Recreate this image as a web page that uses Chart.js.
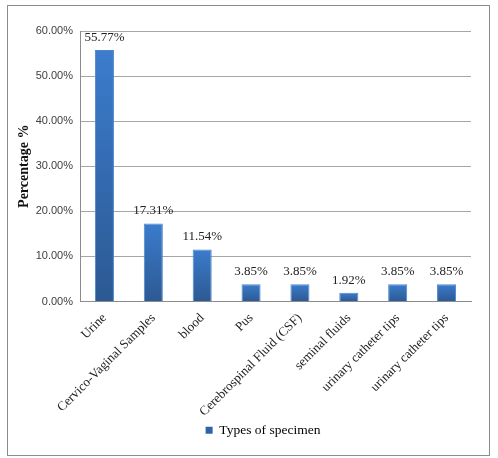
<!DOCTYPE html>
<html>
<head>
<meta charset="utf-8">
<script src="https://cdn.jsdelivr.net/npm/chart.js@4.4.1/dist/chart.umd.min.js"></script>
<style>
  html, body { margin: 0; padding: 0; background: #fff; }
  #wrap { width: 498px; height: 458px; }
</style>
</head>
<body>
<div id="wrap"><canvas id="chartSpecimen"></canvas></div>
<script>
const categories = ['Urine', 'Cervico-Vaginal Samples', 'blood', 'Pus', 'Cerebrospinal Fluid (CSF)',
  'seminal fluids', 'urinary catheter tips', 'urinary catheter tips'];
const percentValues = [55.77, 17.31, 11.54, 3.85, 3.85, 1.92, 3.85, 3.85];
const seriesName = 'Types of specimen';
const yTicks = [0, 10, 20, 30, 40, 50, 60];

// outer frame like the exported picture, and nudge the legend to sit under the plot
const framePlugin = {
  id: 'frame',
  afterLayout(chart) {
    if (chart.legend) chart.legend.left = 55;
  },
  beforeDraw(chart) {
    const c = chart.ctx;
    c.save();
    c.strokeStyle = '#8c8c8c';
    c.lineWidth = 1;
    c.strokeRect(7.5, 5.5, 482, 450);
    c.restore();
  }
};

// value labels above the bars
const valueLabels = {
  id: 'valueLabels',
  afterDatasetsDraw(chart) {
    const c = chart.ctx;
    const meta = chart.getDatasetMeta(0);
    c.save();
    c.font = '13px "Liberation Serif", "Times New Roman", serif';
    c.fillStyle = '#222';
    c.textAlign = 'center';
    c.textBaseline = 'bottom';
    meta.data.forEach((bar, i) => {
      c.fillText(percentValues[i].toFixed(2) + '%', bar.x, bar.y - 6);
    });
    c.restore();
  }
};

function barFill(context) {
  const chart = context.chart;
  const y = chart.scales.y;
  if (!y || context.dataIndex === undefined) return '#3570b8';
  const top = y.getPixelForValue(percentValues[context.dataIndex]);
  const bottom = y.getPixelForValue(0);
  if (!isFinite(top) || !isFinite(bottom) || bottom - top < 1) return '#3570b8';
  const g = chart.ctx.createLinearGradient(0, top, 0, bottom);
  g.addColorStop(0, '#3b7ccc');
  g.addColorStop(1, '#2c5993');
  return g;
}

const ctx = document.getElementById('chartSpecimen');

new Chart(ctx, {
  type: 'bar',
  data: {
    labels: categories,
    datasets: [{
      label: seriesName,
      data: percentValues,
      backgroundColor: barFill,
      borderColor: '#4a86cf',
      borderWidth: 1,
      categoryPercentage: 1,
      barPercentage: 0.39
    }]
  },
  options: {
    responsive: true,
    maintainAspectRatio: false,
    animation: false,
    devicePixelRatio: 1,
    layout: { padding: { left: 7, right: 27, top: 31, bottom: 11 } },
    plugins: {
      tooltip: { enabled: false },
      legend: {
        position: 'bottom',
        labels: {
          boxWidth: 7,
          boxHeight: 7,
          padding: 5,
          color: '#222',
          font: { family: '"Liberation Serif", "Times New Roman", serif', size: 13.5 },
          generateLabels(chart) {
            return [{
              text: seriesName,
              fillStyle: '#2f63a8',
              strokeStyle: '#2f63a8',
              lineWidth: 0,
              datasetIndex: 0
            }];
          }
        }
      }
    },
    scales: {
      x: {
        grid: { display: false, drawTicks: false },
        border: { color: '#8c8c8c' },
        ticks: {
          color: '#222',
          padding: 9,
          minRotation: 45,
          maxRotation: 45,
          autoSkip: false,
          font: { family: '"Liberation Serif", "Times New Roman", serif', size: 13 }
        },
        afterFit(scale) { scale.height = 117; }
      },
      y: {
        min: 0,
        max: 60,
        afterBuildTicks(scale) { scale.ticks = yTicks.map(v => ({ value: v })); },
        grid: { color: '#a6a6a6', drawTicks: false },
        border: { color: '#8c8c8c' },
        ticks: {
          color: '#404040',
          padding: 7,
          font: { family: '"Liberation Sans", Arial, sans-serif', size: 11 },
          callback: v => v.toFixed(2) + '%'
        },
        title: {
          display: true,
          text: 'Percentage %',
          color: '#111',
          padding: { top: 9, bottom: 0 },
          font: { family: '"Liberation Serif", "Times New Roman", serif', size: 14, weight: 'bold' }
        },
        afterFit(scale) { scale.width = 73; }
      }
    }
  },
  plugins: [framePlugin, valueLabels]
});
</script>
</body>
</html>
